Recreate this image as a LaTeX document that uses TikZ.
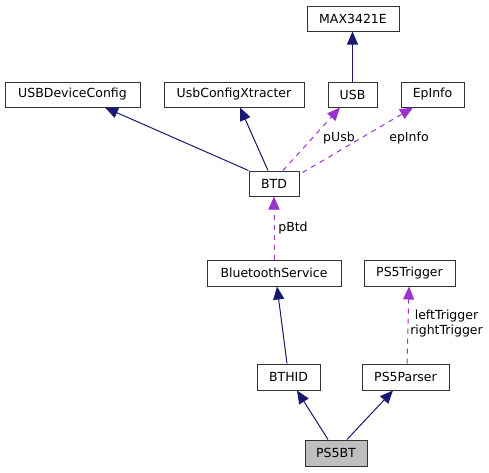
\documentclass[tikz,border=0pt]{standalone}
\usepackage{fontspec}
\setmainfont{DejaVu Sans}
\usetikzlibrary{arrows.meta}
\definecolor{navyedge}{HTML}{191970}
\definecolor{purpedge}{HTML}{9A32CD}
\definecolor{boxborder}{HTML}{333333}
\definecolor{hlfill}{HTML}{BFBFBF}
\begin{document}
\begin{tikzpicture}[x=1pt,y=-1pt,
  font=\fontsize{12.5}{14.5}\selectfont,
  cls/.style={draw=boxborder, line width=1pt, fill=white, inner sep=0pt, minimum height=25pt, anchor=center},
  inh/.style={draw=navyedge, line width=1pt, -{Triangle[length=13pt,width=11pt]}},
  use/.style={draw=purpedge, line width=1pt, dash pattern=on 5pt off 5pt, -{Triangle[length=13pt,width=11pt,fill=purpedge]}},
  lbl/.style={inner sep=0pt, align=center}
]
\useasboundingbox (0,0) rectangle (489,472);
\fill[white] (0,0) rectangle (489,472);

\node[cls, minimum width=92pt] (max) at (353,18.5) {MAX3421E};
\node[cls, minimum width=135pt] (udc) at (72.5,94.5) {USBDeviceConfig};
\node[cls, minimum width=140pt] (ucx) at (234,94.5) {UsbConfigXtracter};
\node[cls, minimum width=49pt] (usb) at (352.5,94.5) {USB};
\node[cls, minimum width=63pt] (ep) at (432.5,94.5) {EpInfo};
\node[cls, minimum width=50pt] (btd) at (274,183.5) {BTD};
\node[cls, minimum width=134pt, minimum height=26pt] (bts) at (274,273) {BluetoothService};
\node[cls, minimum width=91pt, minimum height=26pt] (trig) at (409.5,273) {PS5Trigger};
\node[cls, minimum width=63pt, minimum height=26pt] (bthid) at (288.5,377) {BTHID};
\node[cls, minimum width=87pt, minimum height=26pt] (parser) at (405.5,377) {PS5Parser};
\node[cls, fill=hlfill, minimum width=62pt, minimum height=26pt] (ps5bt) at (336,453) {PS5BT};

\draw[inh] (usb.north) -- (usb.north |- max.south);
\draw[inh] (btd.north west) -- ([xshift=32.5pt]udc.south);
\draw[inh] ([xshift=-6pt]btd.north) -- ([xshift=6pt]ucx.south);
\draw[use] ([xshift=9pt]btd.north) -- ([xshift=-12.5pt]usb.south);
\draw[use] ([xshift=3pt,yshift=-2pt]btd.north east) -- ([xshift=-19.5pt]ep.south);
\draw[use] (bts.north) -- (btd.south);
\draw[inh] ([xshift=-1.5pt]bthid.north) -- ([xshift=3pt]bts.south);
\draw[use] ([xshift=1.5pt]parser.north) -- ([xshift=-0.5pt]trig.south);
\draw[inh] ([xshift=-8pt]ps5bt.north) -- ([xshift=8.5pt]bthid.south);
\draw[inh] ([xshift=11pt]ps5bt.north) -- ([xshift=-12.5pt]parser.south);

\node[lbl] (tpusb) at (339,138) {pUsb};
\node[lbl] (tep) at (409,138) {epInfo};
\node[lbl] (tpbtd) at (293,228) {pBtd};
\node[lbl] (ttrig) at (446.5,323.5) {leftTrigger\\rightTrigger};
\end{tikzpicture}
\end{document}
